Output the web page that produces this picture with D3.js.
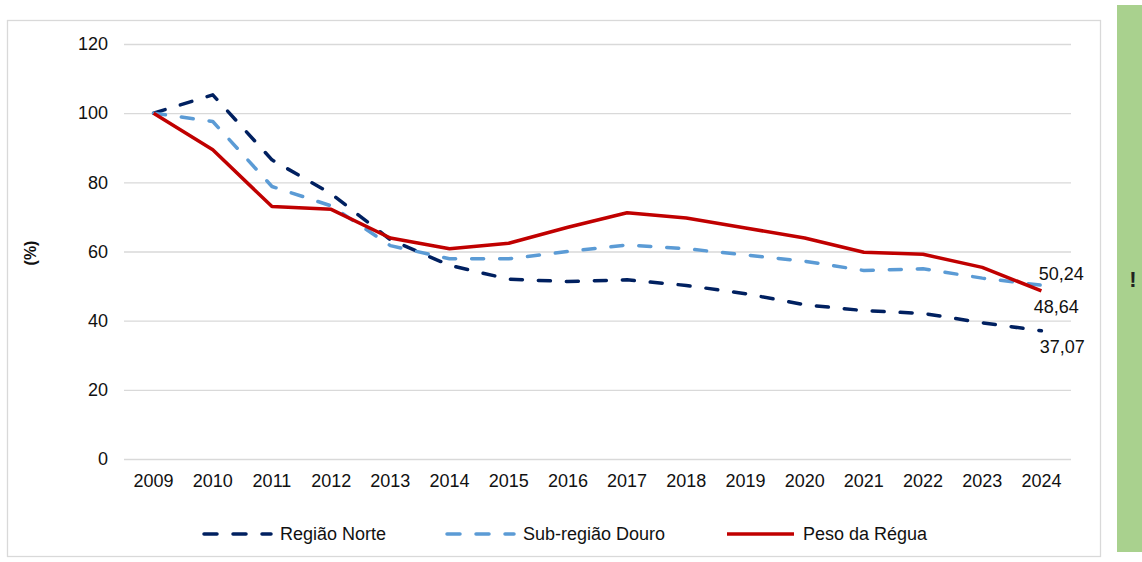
<!DOCTYPE html>
<html><head><meta charset="utf-8">
<script src="https://cdn.jsdelivr.net/npm/d3@7"></script>
<style>body{margin:0;background:#fff}svg{display:block}text{font-family:"Liberation Sans",Arial,sans-serif}</style>
</head><body><svg id="c" width="1142" height="562"></svg>
<script>
const years = ["2009","2010","2011","2012","2013","2014","2015","2016","2017","2018","2019","2020","2021","2022","2023","2024"];
const norte = [100,105.3,86.5,76.7,63.4,56.0,52.0,51.3,51.8,50.2,47.8,44.6,42.9,42.1,39.4,37.07];
const douro = [100,97.6,78.8,73.2,61.7,57.9,57.9,60.0,61.9,60.8,59.0,57.2,54.5,55.0,52.3,50.24];
const regua = [100,89.4,73.0,72.2,63.9,60.8,62.4,67.0,71.2,69.7,66.8,63.9,59.8,59.2,55.4,48.64];
const yTicks = [0,20,40,60,80,100,120];
const seriesNames = ["Região Norte","Sub-região Douro","Peso da Régua"];
const endLabels = ["37,07","50,24","48,64"];

const FS = 18;
const svg = d3.select("#c");
// green side bar
svg.append("rect").attr("x",1117).attr("y",5).attr("width",25).attr("height",547).attr("fill","#A9D18E");
svg.append("text").attr("x",1133).attr("y",287).attr("text-anchor","middle").attr("font-size",22).attr("font-weight","bold").attr("fill","#222").text("!");
// chart border
svg.append("rect").attr("x",7.5).attr("y",20.5).attr("width",1093).attr("height",536).attr("fill","#fff").attr("stroke","#D9D9D9").attr("stroke-width",1.3);

const x = d3.scaleBand().domain(years).range([124,1071]);
const y = d3.scaleLinear().domain([0,120]).range([459,44]);

const gy = svg.append("g").attr("transform","translate(124,0)")
  .call(d3.axisLeft(y).tickValues(yTicks).tickSize(-947).tickPadding(16));
gy.select(".domain").remove();
gy.selectAll(".tick line").attr("stroke","#D9D9D9").attr("stroke-width",1.3);
gy.selectAll(".tick text").attr("font-size",FS).attr("fill","#111").attr("font-family","Liberation Sans, Arial, sans-serif");

const gx = svg.append("g").attr("transform","translate(0,459)")
  .call(d3.axisBottom(x).tickSize(0).tickPadding(15));
gx.select(".domain").remove();
gx.selectAll(".tick text").attr("font-size",FS).attr("fill","#111").attr("font-family","Liberation Sans, Arial, sans-serif");

svg.append("text").attr("transform","translate(36,253) rotate(-90)").attr("text-anchor","middle")
  .attr("font-size",16).attr("font-weight","bold").attr("fill","#111").text("(%)");

const line = d3.line().x((d,i)=>x(years[i])+x.bandwidth()/2).y(d=>y(d));
const styles = [
  {data:norte,color:"#002060",dash:"12,16"},
  {data:douro,color:"#5B9BD5",dash:"12,16"},
  {data:regua,color:"#C00000",dash:null}
];
styles.forEach(s=>{
  const p = svg.append("path").datum(s.data).attr("d",line).attr("fill","none")
    .attr("stroke",s.color).attr("stroke-width",3.5).attr("stroke-linejoin","round");
  if(s.dash){p.attr("stroke-dasharray",s.dash).attr("stroke-linecap","round");}
});

// end labels
const lx = x(years[15])+x.bandwidth()/2;
const lbl = [
  {v:norte[15], t:endLabels[0], dx:-1.6, dy:22.5},
  {v:douro[15], t:endLabels[1], dx:-2.6, dy:-5.3},
  {v:regua[15], t:endLabels[2], dx:-7.6, dy:22.5}
];
lbl.forEach(l=>{
  svg.append("text").attr("x",lx+l.dx).attr("y",y(l.v)+l.dy)
    .attr("font-size",FS).attr("fill","#111").text(l.t);
});

// legend
const legX = [202,445,725];
styles.forEach((s,i)=>{
  const g = svg.append("g");
  const ln = g.append("line").attr("x1",legX[i]+2).attr("x2",legX[i]+69).attr("y1",534).attr("y2",534)
    .attr("stroke",s.color).attr("stroke-width",3.5);
  if(s.dash){ln.attr("stroke-dasharray","13,16").attr("stroke-linecap","round");}
  g.append("text").attr("x",legX[i]+78).attr("y",540).attr("font-size",FS).attr("fill","#111").text(seriesNames[i]);
});
</script></body></html>
